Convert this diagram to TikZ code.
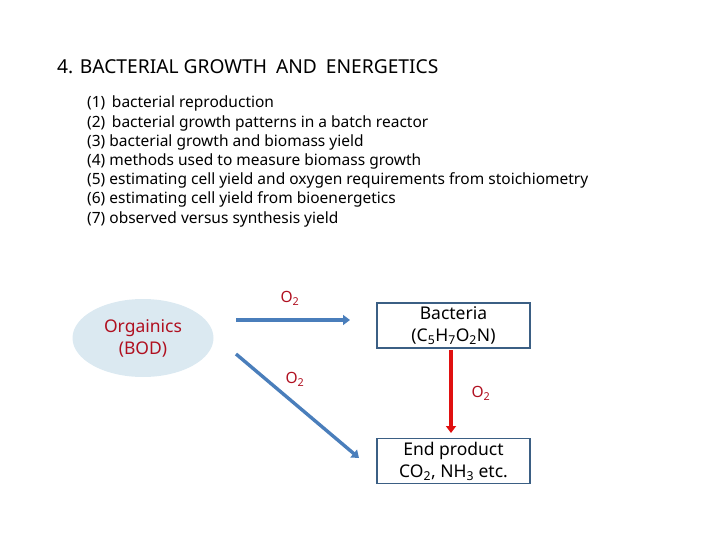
\documentclass[tikz,border=0pt]{standalone}
\usepackage{fontspec}
\setmainfont{Noto Sans}
\usetikzlibrary{arrows.meta,shapes.geometric}
\definecolor{arrblue}{HTML}{4A7EBB}
\definecolor{boxblue}{HTML}{3B5F84}
\definecolor{ellfill}{HTML}{DBE9F1}
\definecolor{darkred}{HTML}{B01020}
\definecolor{redarr}{HTML}{E01010}
\tikzset{
  listitem/.style={anchor=west,inner sep=0pt,font=\fontsize{15.5}{17}\selectfont},
  boxnode/.style={draw=boxblue,line width=1.8pt,minimum width=153pt,minimum height=45pt,align=center,inner sep=0pt,font=\fontsize{17.5}{22}\selectfont},
  bluearrow/.style={draw=arrblue,line width=3.4pt,-{Triangle[length=7pt,width=10pt]}},
  redarrow/.style={draw=redarr,line width=3.4pt,-{Triangle[length=7pt,width=10pt]}},
  olabel/.style={text=darkred,font=\fontsize{15.5}{17}\selectfont,inner sep=0pt}
}
\begin{document}
\begin{tikzpicture}[x=1pt,y=-1pt]
\useasboundingbox (0,0) rectangle (720,540);
\node[anchor=west,inner sep=0pt,font=\fontsize{19.2}{21}\selectfont] (title) at (57,67) {4. BACTERIAL GROWTH\hspace{4pt} AND\hspace{4pt} ENERGETICS};
\node[listitem] (l1) at (87,103) {(1)\, bacterial reproduction};
\node[listitem] (l2) at (87,123) {(2)\, bacterial growth patterns in a batch reactor};
\node[listitem] (l3) at (87,142) {(3) bacterial growth and biomass yield};
\node[listitem] (l4) at (87,161) {(4) methods used to measure biomass growth};
\node[listitem] (l5) at (87,180) {(5) estimating cell yield and oxygen requirements from stoichiometry};
\node[listitem] (l6) at (87,199) {(6) estimating cell yield from bioenergetics};
\node[listitem] (l7) at (87,219) {(7) observed versus synthesis yield};

\node[ellipse,fill=ellfill,minimum width=141pt,minimum height=78pt,inner sep=0pt,align=center,text=darkred,font=\fontsize{17.5}{22}\selectfont] (org) at (143,338) {Orgainics\\(BOD)};
\node[boxnode] (bac) at (453.5,325.5) {Bacteria\\(C\textsubscript{5}H\textsubscript{7}O\textsubscript{2}N)};
\node[boxnode] (end) at (453.5,461) {End product\\CO\textsubscript{2}, NH\textsubscript{3} etc.};

\coordinate (a1s) at (236,320);
\coordinate (a1e) at (350,320);
\coordinate (a2s) at (236,354);
\coordinate (a2e) at (359,458);
\draw[bluearrow] (a1s) -- (a1e);
\draw[bluearrow] (a2s) -- (a2e);
\coordinate (rs) at (451,350);
\coordinate (re) at (451,433);
\draw[redarrow] (rs) -- (re);

\node[olabel] (o1) at (290,298) {O\textsubscript{2}};
\node[olabel] (o2) at (295,379) {O\textsubscript{2}};
\node[olabel] (o3) at (481,393) {O\textsubscript{2}};
\end{tikzpicture}
\end{document}
